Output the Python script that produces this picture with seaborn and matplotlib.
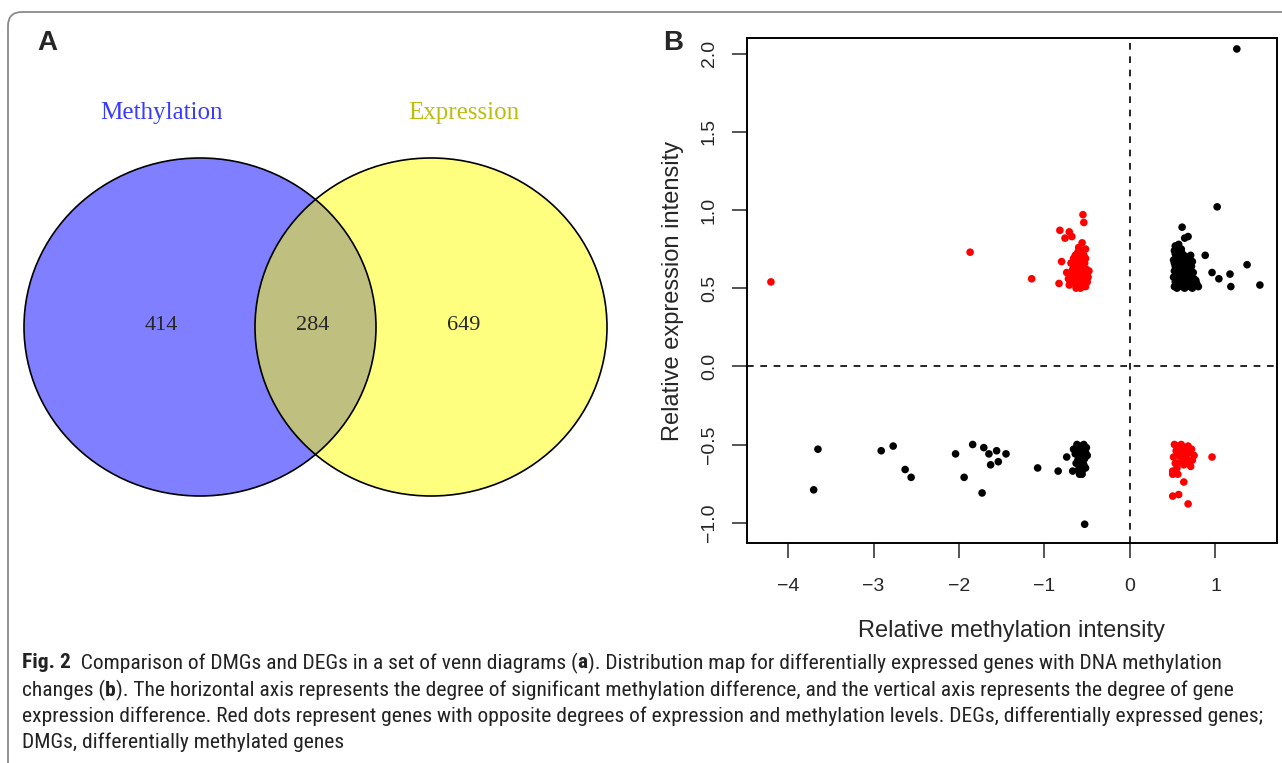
import numpy as np
import pandas as pd
import seaborn as sns
import matplotlib.pyplot as plt
from matplotlib import font_manager
from matplotlib.patches import Ellipse, FancyBboxPatch

# pannello A: diagramma di venn
insiemi = ["Methylation", "Expression"]
conteggi = [414, 284, 649]   # solo metilazione, entrambi, solo espressione

# pannello B: geni con metilazione ed espressione opposte (rossi)
rossi_su_x = [-0.62, -0.58, -0.55, -0.52, -0.66, -0.60, -0.57, -0.50, -0.64, -0.70,
              -0.59, -0.53, -0.61, -0.56, -0.68, -0.72, -0.63, -0.49, -0.54, -0.65,
              -0.58, -0.51, -0.60, -0.67, -0.55, -0.62, -0.74, -0.57, -0.52, -0.69,
              -0.64, -0.59, -0.48, -0.61, -0.56, -0.66, -0.53, -0.71, -0.60, -0.58,
              -0.63, -0.50, -0.55, -0.67, -0.62, -0.57, -0.54, -0.65, -0.59, -0.52,
              -0.55, -0.54, -0.82, -0.71, -0.76, -0.68, -0.56, -0.80, -0.83,
              -4.20, -1.87, -1.15]
rossi_su_y = [0.51, 0.52, 0.53, 0.51, 0.54, 0.55, 0.56, 0.54, 0.57, 0.53,
              0.58, 0.59, 0.60, 0.61, 0.59, 0.56, 0.62, 0.57, 0.63, 0.64,
              0.65, 0.62, 0.66, 0.62, 0.67, 0.68, 0.60, 0.70, 0.69, 0.66,
              0.71, 0.72, 0.61, 0.73, 0.74, 0.69, 0.66, 0.52, 0.76, 0.50,
              0.50, 0.58, 0.55, 0.57, 0.53, 0.59, 0.71, 0.62, 0.64, 0.75,
              0.97, 0.92, 0.87, 0.86, 0.82, 0.83, 0.79, 0.67, 0.53,
              0.54, 0.73, 0.56]

rossi_giu_x = [0.52, 0.56, 0.60, 0.64, 0.68, 0.72, 0.54, 0.58, 0.62, 0.66,
               0.70, 0.75, 0.51, 0.57, 0.61, 0.65, 0.69, 0.53, 0.59, 0.63,
               0.67, 0.73, 0.55, 0.62, 0.71,
               0.96, 0.50, 0.56, 0.50, 0.63, 0.50, 0.57, 0.68]
rossi_giu_y = [-0.50, -0.51, -0.50, -0.52, -0.51, -0.53, -0.54, -0.55, -0.53, -0.56,
               -0.55, -0.57, -0.58, -0.57, -0.59, -0.58, -0.60, -0.62, -0.61, -0.63,
               -0.62, -0.60, -0.65, -0.52, -0.64,
               -0.58, -0.67, -0.69, -0.69, -0.74, -0.83, -0.82, -0.88]

# geni con variazioni concordi (neri)
neri_su_x = [0.52, 0.55, 0.58, 0.61, 0.64, 0.67, 0.70, 0.73, 0.76,
             0.53, 0.57, 0.60, 0.63, 0.66, 0.69, 0.72, 0.75,
             0.51, 0.54, 0.59, 0.62, 0.65, 0.68, 0.71, 0.74, 0.78,
             0.52, 0.56, 0.60, 0.64, 0.67, 0.70,
             0.53, 0.57, 0.61, 0.65, 0.69, 0.73,
             0.51, 0.55, 0.59, 0.62, 0.66,
             0.54, 0.58, 0.63, 0.68, 0.72,
             0.52, 0.56, 0.60,
             0.53, 0.57, 0.61, 0.66,
             0.55, 0.59, 0.63,
             0.52, 0.56, 0.62,
             0.58,
             0.54, 0.60, 0.65, 0.71, 0.77, 0.80, 0.57, 0.53,
             0.61, 0.64, 0.68, 1.02, 0.88, 0.96, 1.04, 1.17, 1.18, 1.37, 1.52, 1.25]
neri_su_y = [0.51, 0.50, 0.52, 0.51, 0.50, 0.52, 0.51, 0.50, 0.52,
             0.54, 0.53, 0.55, 0.54, 0.53, 0.55, 0.54, 0.56,
             0.57, 0.58, 0.56, 0.58, 0.57, 0.59, 0.58, 0.60, 0.53,
             0.61, 0.60, 0.62, 0.61, 0.63, 0.62,
             0.64, 0.65, 0.64, 0.66, 0.65, 0.67,
             0.68, 0.67, 0.69, 0.68, 0.70,
             0.71, 0.72, 0.71, 0.69, 0.64,
             0.74, 0.73, 0.75,
             0.77, 0.76, 0.72, 0.66,
             0.63, 0.60, 0.57,
             0.66, 0.69, 0.59,
             0.55,
             0.62, 0.74, 0.61, 0.71, 0.55, 0.51, 0.78, 0.72,
             0.89, 0.82, 0.83, 1.02, 0.71, 0.60, 0.56, 0.59, 0.51, 0.65, 0.52, 2.03]

neri_giu_x = [-0.62, -0.58, -0.54, -0.51, -0.60, -0.56, -0.52, -0.64, -0.59, -0.55,
              -0.50, -0.61, -0.57, -0.53, -0.63, -0.58, -0.54, -0.60, -0.56, -0.52,
              -0.66, -0.59, -0.55,
              -3.65, -3.70, -2.91, -2.77, -2.63, -2.56, -2.04, -1.84, -1.71, -1.65,
              -1.56, -1.45, -1.54, -1.63, -1.94, -1.73, -1.08, -0.84, -0.67, -0.74,
              -0.56, -0.53]
neri_giu_y = [-0.50, -0.51, -0.50, -0.52, -0.54, -0.53, -0.55, -0.56, -0.57, -0.58,
              -0.57, -0.60, -0.61, -0.59, -0.62, -0.64, -0.63, -0.66, -0.67, -0.65,
              -0.53, -0.69, -0.62,
              -0.53, -0.79, -0.54, -0.51, -0.66, -0.71, -0.56, -0.50, -0.52, -0.56,
              -0.54, -0.56, -0.61, -0.63, -0.71, -0.81, -0.65, -0.67, -0.67, -0.58,
              -0.69, -1.01]

x_ticks = [-4, -3, -2, -1, 0, 1]
y_ticks = [-1.0, -0.5, 0.0, 0.5, 1.0, 1.5, 2.0]

gruppi = [(rossi_su_x, rossi_su_y, "opposto"), (rossi_giu_x, rossi_giu_y, "opposto"),
          (neri_su_x, neri_su_y, "concorde"), (neri_giu_x, neri_giu_y, "concorde")]
df = pd.concat([pd.DataFrame({"meth": x, "expr": y, "tipo": t}) for x, y, t in gruppi],
               ignore_index=True)

sns.set_style("ticks")
plt.rcParams["font.family"] = ["Liberation Sans", "DejaVu Sans"]

W, H = 1282, 763
fig = plt.figure(figsize=(W / 100, H / 100), dpi=100)

# sfondo in coordinate pixel: cornice, venn e didascalia
bg = fig.add_axes([0, 0, 1, 1])
bg.set_xlim(0, W)
bg.set_ylim(H, 0)
bg.axis("off")
bg.add_patch(FancyBboxPatch((8, 12), 1320, 800, boxstyle="round,pad=0,rounding_size=14",
                            fc="none", ec="#8a8a8a", lw=1.3))

bg.add_patch(Ellipse((200, 327), 352, 338, fc=(0, 0, 1, 0.5), ec="none"))
bg.add_patch(Ellipse((431, 327), 352, 338, fc=(1, 1, 0, 0.5), ec="none"))
bg.add_patch(Ellipse((200, 327), 352, 338, fc="none", ec="black", lw=1.2))
bg.add_patch(Ellipse((431, 327), 352, 338, fc="none", ec="black", lw=1.2))
serif = ["Liberation Serif", "DejaVu Serif"]
bg.text(161, 113, insiemi[0], color="#3b3bff", fontsize=18, family=serif, ha="center", va="center")
bg.text(464, 113, insiemi[1], color="#bdbd10", fontsize=18, family=serif, ha="center", va="center")
for xp, n in zip([161, 313, 464], conteggi):
    bg.text(xp, 326, str(n), fontsize=16, family=serif, ha="center", va="center")

bg.text(47, 43, "A", fontsize=20, fontweight="bold", ha="center", va="center")
bg.text(673, 43, "B", fontsize=20, fontweight="bold", ha="center", va="center")

# didascalia con pezzi in grassetto
nomi = {f.name for f in font_manager.fontManager.ttflist}
stretti = [n for n in ["Liberation Sans Narrow", "Roboto Condensed", "Open Sans Condensed",
                       "DejaVu Sans Condensed", "Liberation Sans"] if n in nomi]
narrow = stretti[:1] + ["DejaVu Sans"]
righe = [
    [("Fig. 2", "bold"), ("  Comparison of DMGs and DEGs in a set of venn diagrams (", "normal"),
     ("a", "bold"), ("). Distribution map for differentially expressed genes with DNA methylation", "normal")],
    [("changes (", "normal"), ("b", "bold"),
     ("). The horizontal axis represents the degree of significant methylation difference, and the vertical axis represents the degree of gene", "normal")],
    [("expression difference. Red dots represent genes with opposite degrees of expression and methylation levels. DEGs, differentially expressed genes;", "normal")],
    [("DMGs, differentially methylated genes", "normal")],
]
renderer = fig.canvas.get_renderer()


def scrivi(riga, yp, size):
    xp = 22
    pezzi = []
    for testo, peso in riga:
        t = bg.text(xp, yp, testo, fontsize=size, family=narrow, fontweight=peso,
                    color="#222222", ha="left", va="center")
        xp += t.get_window_extent(renderer).width
        pezzi.append(t)
    return xp - 22, pezzi


# la riga 3 in originale occupa circa 1240 px: scegliamo la dimensione di conseguenza
larghezza, prova = scrivi(righe[2], 716, 13)
for t in prova:
    t.remove()
size = 13 * 1236 / larghezza
for riga, yp in zip(righe, [663, 690, 716, 742]):
    scrivi(riga, yp, size)

# pannello B: scatter
ax = fig.add_axes([747 / W, 1 - 543 / H, 530 / W, 505 / H])
sns.scatterplot(data=df, x="meth", y="expr", hue="tipo",
                palette={"opposto": "red", "concorde": "black"},
                s=30, linewidth=0, legend=False, ax=ax, zorder=3)
ax.axhline(0, color="black", ls=(0, (4, 4)), lw=1.2)
ax.axvline(0, color="black", ls=(0, (4, 4)), lw=1.2)
ax.set_xlim(-4.48, 1.72)
ax.set_ylim(-1.13, 2.10)
ax.set_xticks(x_ticks)
ax.set_xticklabels(["\u2212" + str(-v) if v < 0 else str(v) for v in x_ticks])
ax.set_yticks(y_ticks)
ax.set_yticklabels([f"{v:.1f}".replace("-", "\u2212") for v in y_ticks], rotation=90, va="center")
ax.tick_params(axis="both", length=11, width=1.1, labelsize=14, direction="out")
ax.tick_params(axis="x", pad=14)
ax.tick_params(axis="y", pad=10)
for sp in ax.spines.values():
    sp.set_linewidth(1.4)
    sp.set_color("black")
ax.set_xlabel("Relative methylation intensity", fontsize=17, labelpad=18)
ax.set_ylabel("Relative expression intensity", fontsize=17, labelpad=12)

fig.savefig("out.png", dpi=100)
